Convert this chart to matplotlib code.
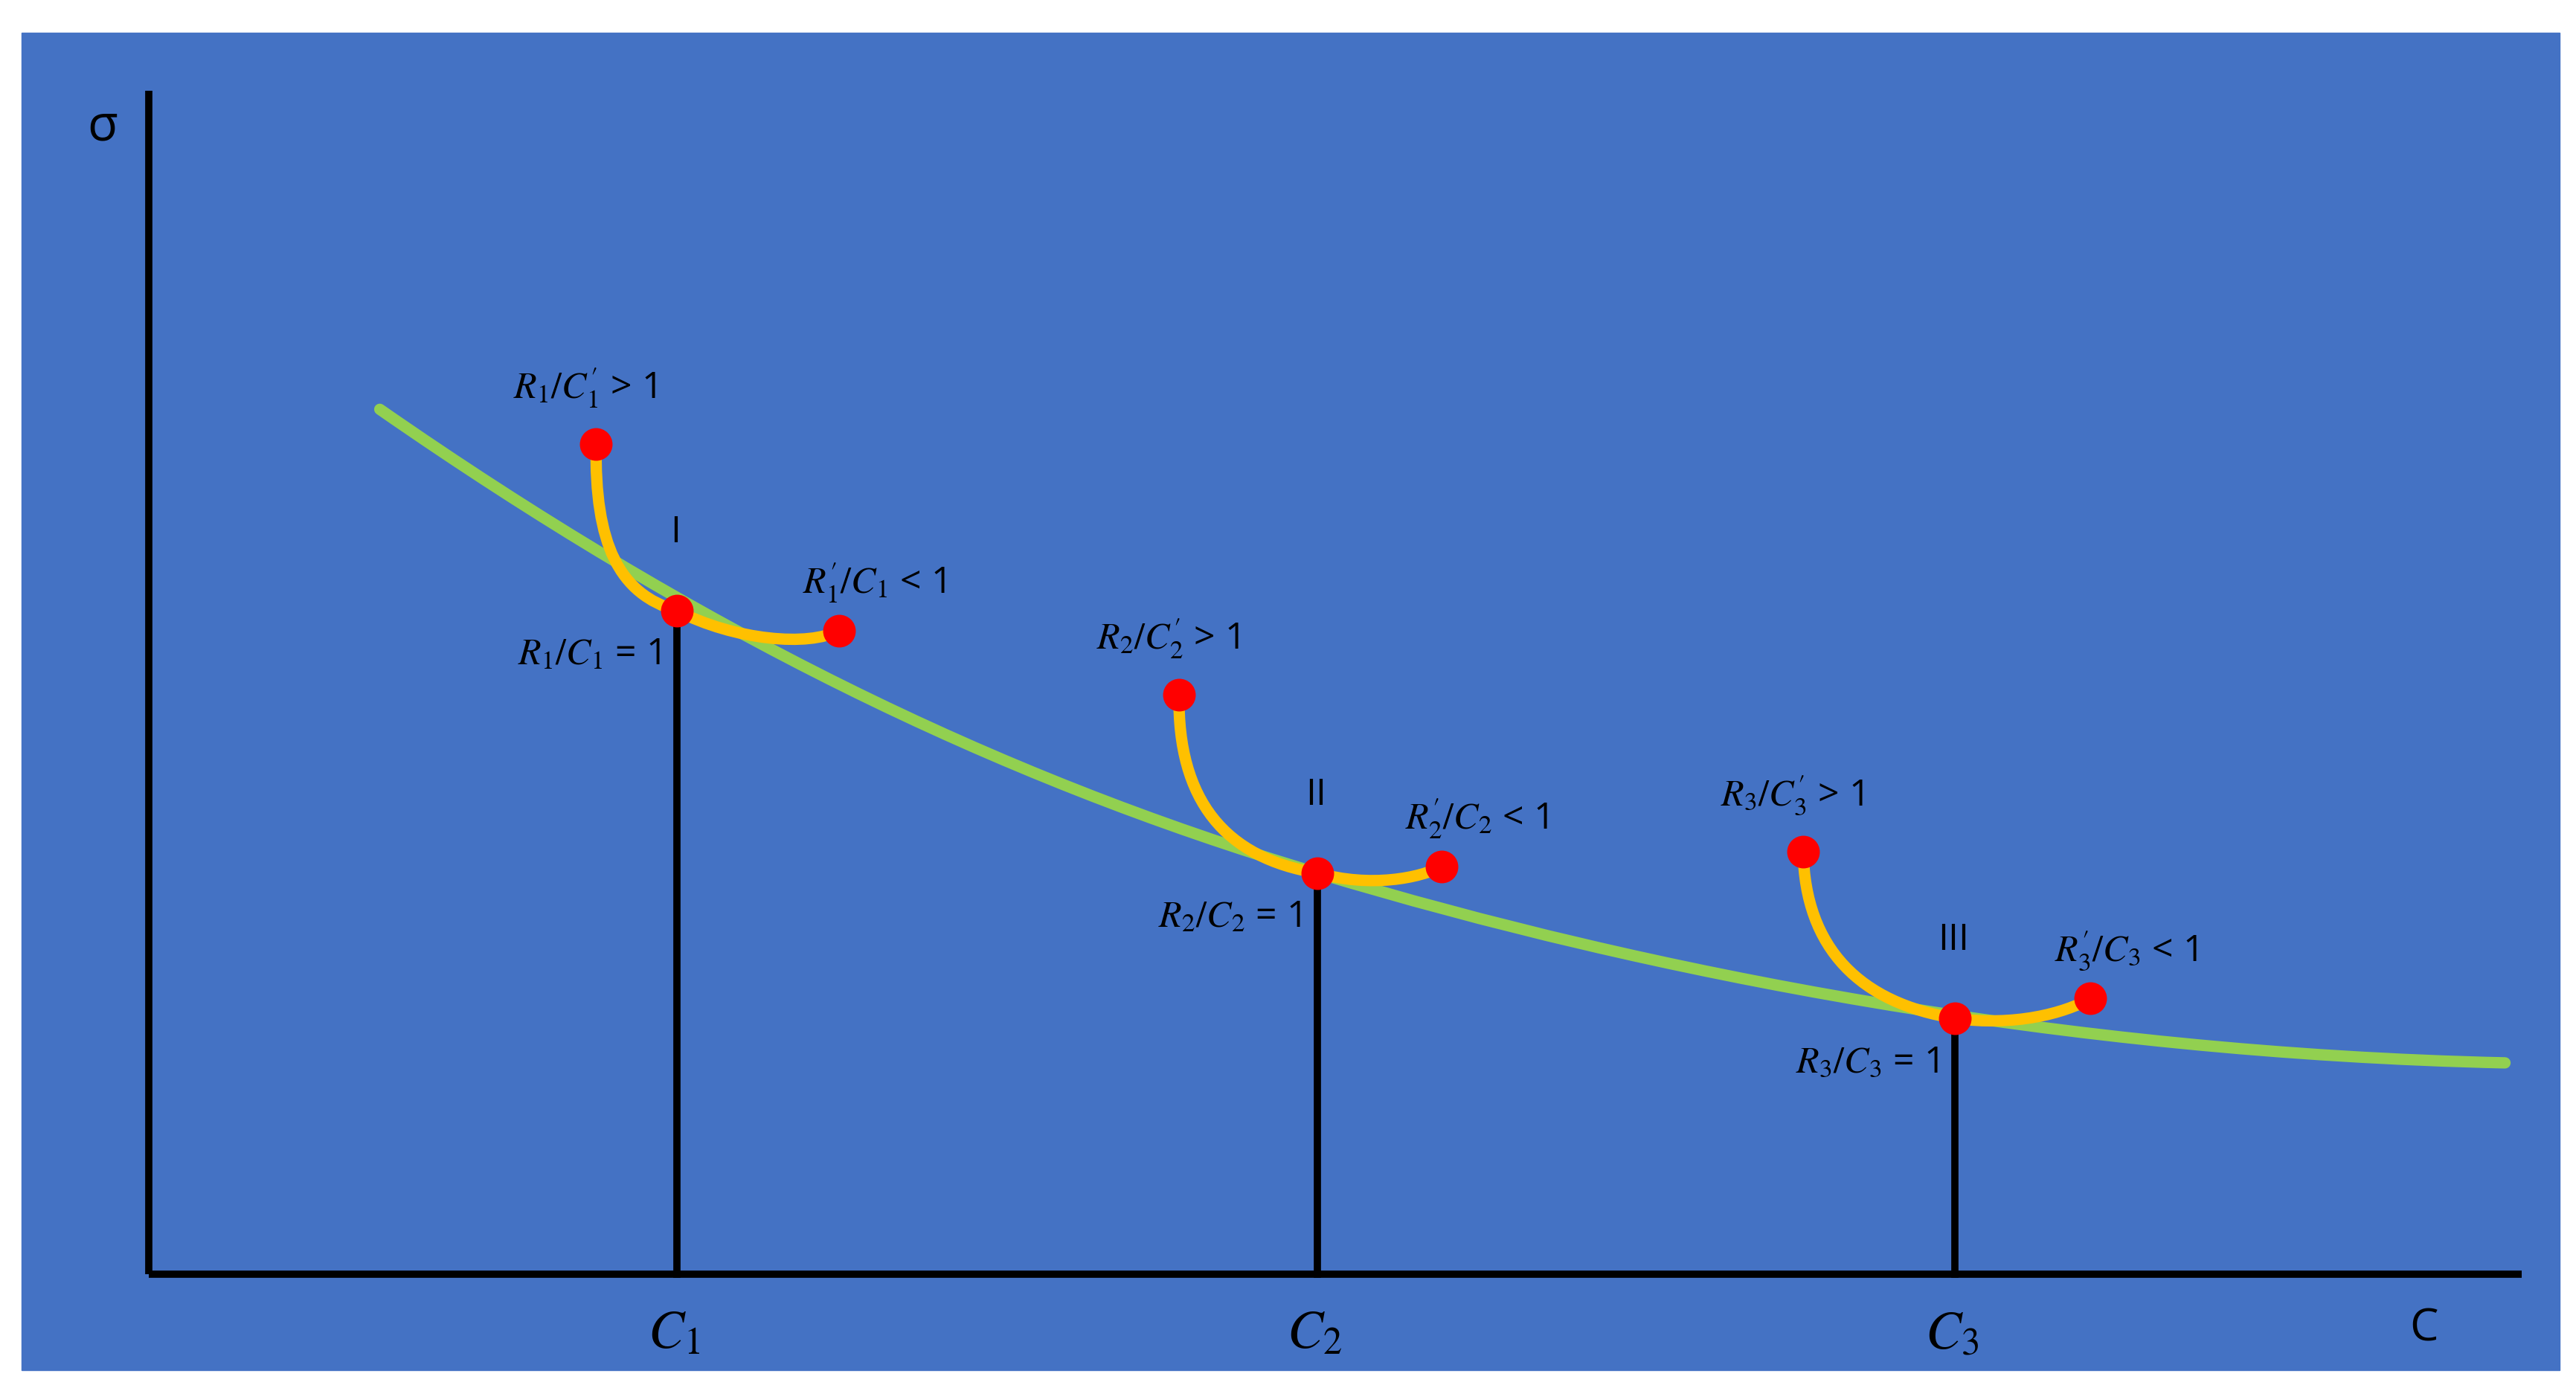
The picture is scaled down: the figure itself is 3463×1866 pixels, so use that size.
import matplotlib.pyplot as plt
from matplotlib.patches import Rectangle, PathPatch
from matplotlib.path import Path

plt.rcParams['font.family'] = ['Open Sans', 'DejaVu Sans']
plt.rcParams['mathtext.fontset'] = 'stix'

# positions in picture units (x right, y down)
# green curve: two cubic Bezier pieces (end, control, control, end)
curve_x = [230, 420, 600, 798, 1000, 1250, 1517]
curve_y = [248, 380, 470, 529, 590, 638, 644]

# orange arcs: start, ctrl, ctrl, equilibrium point, ctrl, ctrl, end
arc1_x = [361, 360, 375, 410, 445, 490, 508]
arc1_y = [269, 330, 360, 370, 388, 392, 382]
arc2_x = [714, 713, 742, 798, 830, 860, 873]
arc2_y = [421, 485, 520, 529, 538, 532, 525]
arc3_x = [1092, 1093, 1127, 1184, 1220, 1250, 1266]
arc3_y = [516, 575, 608, 617, 622, 614, 605]

eq_x = [410, 798, 1184]
eq_y = [370, 529, 617]
ends_x = [361, 508, 714, 873, 1092, 1266]
ends_y = [269, 382, 421, 525, 516, 605]

idx = ['1', '2', '3']
roman = ['I', 'II', 'III']

fig = plt.figure(figsize=(34.63, 18.66), dpi=100)
ax = fig.add_axes([0, 0, 1, 1])
ax.set_xlim(0, 1560)
ax.set_ylim(841, 0)
ax.axis('off')

ax.add_patch(Rectangle((13, 20), 1537, 810, color='#4472C4', zorder=0))

# axes
ax.plot([90, 90], [55, 772], color='black', lw=7, solid_capstyle='butt')
ax.plot([90, 1527], [772, 772], color='black', lw=7, solid_capstyle='butt')
ax.text(62, 77, 'σ', fontsize=48, ha='center', va='center')
ax.text(1468, 805, 'C', fontsize=44, ha='center', va='center')

for x, y in zip(eq_x, eq_y):
    ax.plot([x, x], [y, 772], color='black', lw=7, zorder=2)


def bezier(xs, ys, color, z):
    codes = [Path.MOVETO] + [Path.CURVE4] * (len(xs) - 1)
    p = Path(list(zip(xs, ys)), codes)
    ax.add_patch(PathPatch(p, fill=False, edgecolor=color, lw=11, zorder=z,
                           capstyle='round'))


bezier(curve_x, curve_y, '#92D050', 3)
for bx, by in [(arc1_x, arc1_y), (arc2_x, arc2_y), (arc3_x, arc3_y)]:
    bezier(bx, by, '#FFC000', 4)
ax.scatter(eq_x + ends_x, eq_y + ends_y, s=1000, color='#FF0000', zorder=5, lw=0)

for i, (x, y) in enumerate(zip(eq_x, eq_y)):
    n = idx[i]
    ax.text(x - 2, 808, '$C_%s$' % n, fontsize=52, ha='center', va='center')
    ax.text(x - 10, y + 27, '$R_%s/C_%s$ = 1' % (n, n), fontsize=36, ha='right', va='center')
    ax.text(x - 1, y - 47, roman[i], fontsize=36, ha='center', va='center')
for i in range(3):
    n = idx[i]
    sx, sy = ends_x[2 * i], ends_y[2 * i]
    ex, ey = ends_x[2 * i + 1], ends_y[2 * i + 1]
    ax.text(sx - 50, sy - 34, "$R_%s/C_%s'$ > 1" % (n, n), fontsize=36, ha='left', va='center')
    ax.text(ex - 22, ey - 29, "$R_%s'/C_%s$ < 1" % (n, n), fontsize=36, ha='left', va='center')

fig.savefig('out.png', dpi=100, facecolor='white')
